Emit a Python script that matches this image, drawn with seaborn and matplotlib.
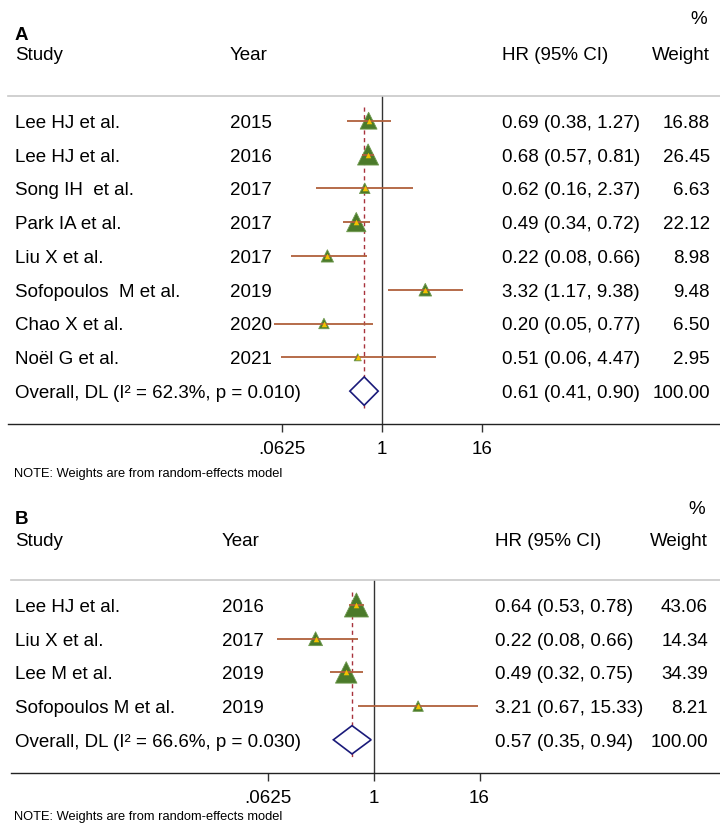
import numpy as np
import pandas as pd
import matplotlib
matplotlib.use("Agg")
import matplotlib.pyplot as plt
import matplotlib.transforms as mtransforms
import seaborn as sns

# ---------------- data ----------------
studies_a = ["Lee HJ et al.", "Lee HJ et al.", "Song IH  et al.", "Park IA et al.",
             "Liu X et al.", "Sofopoulos  M et al.", "Chao X et al.", "Noël G et al."]
years_a = [2015, 2016, 2017, 2017, 2017, 2019, 2020, 2021]
hr_a = [0.69, 0.68, 0.62, 0.49, 0.22, 3.32, 0.20, 0.51]
lo_a = [0.38, 0.57, 0.16, 0.34, 0.08, 1.17, 0.05, 0.06]
hi_a = [1.27, 0.81, 2.37, 0.72, 0.66, 9.38, 0.77, 4.47]
w_a = [16.88, 26.45, 6.63, 22.12, 8.98, 9.48, 6.50, 2.95]
overall_a = [0.61, 0.41, 0.90]
i2_a = "62.3%"
p_a = "0.010"

studies_b = ["Lee HJ et al.", "Liu X et al.", "Lee M et al.", "Sofopoulos M et al."]
years_b = [2016, 2017, 2019, 2019]
hr_b = [0.64, 0.22, 0.49, 3.21]
lo_b = [0.53, 0.08, 0.32, 0.67]
hi_b = [0.78, 0.66, 0.75, 15.33]
w_b = [43.06, 14.34, 34.39, 8.21]
overall_b = [0.57, 0.35, 0.94]
i2_b = "66.6%"
p_b = "0.030"

tick_vals = [0.0625, 1, 16]
tick_labels = [".0625", "1", "16"]

# ---------------- style ----------------
sns.set_style("white")
plt.rcParams['font.family'] = ['Liberation Sans', 'DejaVu Sans']
plt.rcParams['text.color'] = 'black'
plt.rcParams['xtick.color'] = 'black'
FS = 13.5
NOTE_FS = 9.3

W, H = 720, 825
fig = plt.figure(figsize=(7.2, 8.25), dpi=100)

GREEN = "#4b7a2a"
YELLOW = "#f2c200"
CI = "#b0603c"
RED = "#a8323c"
NAVY = "#1a1a7a"


def fx(x):
    return x / W


def fy(y):
    return 1 - y / H


def panel(letter, studies, years, hr, lo, hi, w, overall, i2, p,
          ax_left, ax_top, ax_bottom, row0, rowstep, x1, pxdbl,
          yr_x, hr_x, wt_x, pct_y, let_y, head_y, k, note_y):
    n = len(studies)
    rows = list(range(n))
    ax = fig.add_axes([fx(ax_left), fy(ax_bottom), 1 - fx(ax_left), (ax_bottom - ax_top) / H])
    ax.set_xscale("log", base=2)
    lx = 2 ** ((ax_left - x1) / pxdbl)
    rx = 2 ** ((W - x1) / pxdbl)
    ax.set_xlim(lx, rx)
    ytop = (ax_top - row0) / rowstep
    ybot = (ax_bottom - row0) / rowstep
    ax.set_ylim(ybot, ytop)

    ax.axvline(1, color="#333333", lw=1.0, zorder=1)
    ax.vlines(overall[0], -0.4, n + 0.5, color=RED, lw=1.0, ls=(0, (3, 2.5)), zorder=2)

    df = pd.DataFrame({"hr": hr, "row": rows, "w": w})
    c = (k * 0.72) ** 2
    sns.scatterplot(data=df, x="hr", y="row", size="w",
                    sizes=(c * min(w), c * max(w)), size_norm=(min(w), max(w)),
                    marker="^", color=GREEN, edgecolor="#6f9a4f", linewidth=0.6,
                    legend=False, ax=ax, zorder=3)
    ax.hlines(rows, lo, hi, color=CI, lw=1.3, zorder=4)
    sns.scatterplot(data=df, x="hr", y="row", marker="^", s=16, color=YELLOW,
                    linewidth=0, legend=False, ax=ax, zorder=5)

    est, olo, ohi = overall
    ax.fill([olo, est, ohi, est], [n, n - 0.42, n, n + 0.42], facecolor="white",
            edgecolor=NAVY, lw=1.2, zorder=3)

    ax.set_xlabel("")
    ax.set_ylabel("")
    ax.set_yticks([])
    ax.set_xticks(tick_vals)
    ax.set_xticklabels(tick_labels, fontsize=FS)
    ax.minorticks_off()
    ax.tick_params(axis="x", direction="out", length=6, width=1, color="#333333",
                   pad=6.5, bottom=True)
    for s in ["left", "right"]:
        ax.spines[s].set_visible(False)
    ax.spines["top"].set_color("#c8c8c8")
    ax.spines["top"].set_linewidth(1.2)
    ax.spines["bottom"].set_color("#222222")
    ax.spines["bottom"].set_linewidth(1.0)
    ax.patch.set_alpha(0)

    off = mtransforms.ScaledTranslation(0, -2.5 / 100, fig.dpi_scale_trans)
    tr = mtransforms.blended_transform_factory(fig.transFigure, ax.transData) + off
    kw = dict(transform=tr, fontsize=FS, va="center")
    for i in range(n):
        fig.text(fx(15), i, studies[i], ha="left", **kw)
        fig.text(fx(yr_x), i, str(years[i]), ha="left", **kw)
        fig.text(fx(hr_x), i, f"{hr[i]:.2f} ({lo[i]:.2f}, {hi[i]:.2f})", ha="left", **kw)
        fig.text(fx(wt_x), i, f"{w[i]:.2f}", ha="right", **kw)
    fig.text(fx(15), n, f"Overall, DL (I² = {i2}, p = {p})", ha="left", **kw)
    fig.text(fx(hr_x), n, f"{est:.2f} ({olo:.2f}, {ohi:.2f})", ha="left", **kw)
    fig.text(fx(wt_x), n, "100.00", ha="right", **kw)

    fig.text(fx(wt_x - 3), fy(pct_y), "%", fontsize=FS, va="center", ha="right")
    fig.text(fx(15), fy(let_y), letter, fontsize=FS, fontweight="bold", va="center", ha="left")
    fig.text(fx(15), fy(head_y), "Study", fontsize=FS, va="center", ha="left")
    fig.text(fx(yr_x), fy(head_y), "Year", fontsize=FS, va="center", ha="left")
    fig.text(fx(hr_x), fy(head_y), "HR (95% CI)", fontsize=FS, va="center", ha="left")
    fig.text(fx(wt_x), fy(head_y), "Weight", fontsize=FS, va="center", ha="right")
    fig.text(fx(14), fy(note_y), "NOTE: Weights are from random-effects model",
             fontsize=NOTE_FS, va="center", ha="left")
    return ax


panel("A", studies_a, years_a, hr_a, lo_a, hi_a, w_a, overall_a, i2_a, p_a,
      ax_left=8, ax_top=96, ax_bottom=424, row0=120.7, rowstep=33.8, x1=382, pxdbl=25.0,
      yr_x=230, hr_x=502, wt_x=710, pct_y=20, let_y=36, head_y=56, k=4.1, note_y=474)
panel("B", studies_b, years_b, hr_b, lo_b, hi_b, w_b, overall_b, i2_b, p_b,
      ax_left=11, ax_top=580, ax_bottom=773, row0=605, rowstep=33.7, x1=373.5, pxdbl=26.5,
      yr_x=222, hr_x=495, wt_x=708, pct_y=509, let_y=520, head_y=542, k=3.66, note_y=817)

fig.savefig("out.png", dpi=100)
